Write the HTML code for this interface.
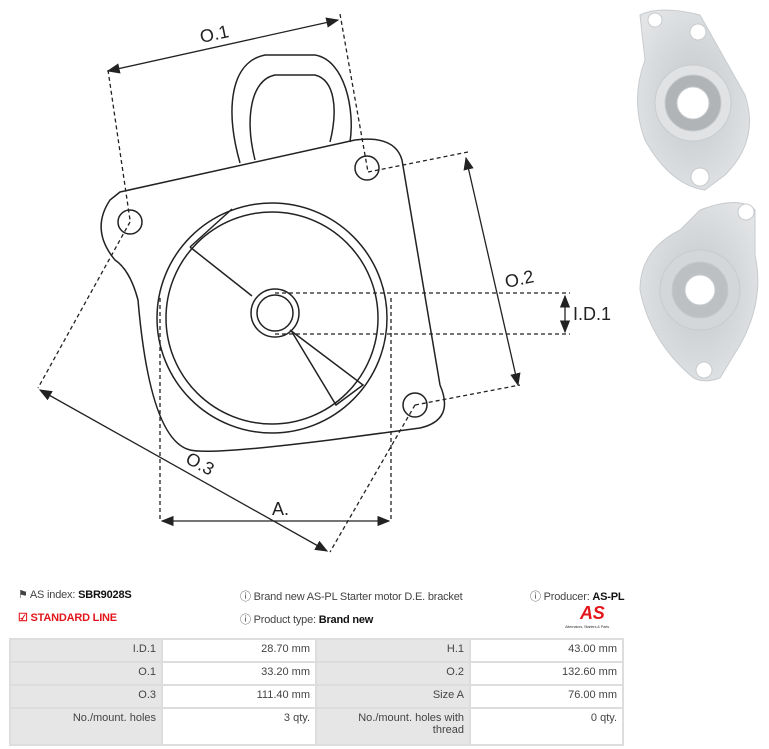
<!DOCTYPE html>
<html><head><meta charset="utf-8"><style>
body{margin:0;width:769px;height:749px;background:#fff;font-family:"Liberation Sans",sans-serif;position:relative;overflow:hidden}
.t{position:absolute;font-size:11px;color:#444;white-space:nowrap;letter-spacing:-0.2px}
.t b{color:#111}
table{position:absolute;left:9px;top:638px;border-collapse:collapse;font-size:11px;color:#444}
td{border:2px solid #ddd;text-align:right;padding:3px 5px;vertical-align:top;height:15px}
td.g{background:#e6e6e6}
</style></head><body>
<svg width="769" height="560" style="position:absolute;left:0;top:0" fill="none" stroke="#222" stroke-width="1.5">
<defs><marker id="a" markerWidth="10" markerHeight="8" refX="9" refY="4" orient="auto-start-reverse"><path d="M0,0 L10,4 L0,8 z" fill="#222" stroke="none"/></marker>
<radialGradient id="m" cx="50%" cy="50%" r="60%"><stop offset="0" stop-color="#c4c8cb"/><stop offset="1" stop-color="#e2e4e6"/></radialGradient></defs>
<path d="M240,163 C225,110 230,62 265,55 L315,55 C345,60 355,110 350,142" />
<path d="M255,160 C245,120 250,80 275,75 L315,75 C335,80 338,110 330,142" />
<path d="M120,192 L355,140 Q395,135 402,160 L440,385 Q455,420 420,428 L330,440 Q210,455 190,450 Q150,440 138,300 Q130,270 115,260 Q90,230 110,200 Z"/>
<circle cx="130" cy="222" r="12"/><circle cx="367" cy="168" r="12"/><circle cx="415" cy="405" r="12"/>
<circle cx="272" cy="318" r="115"/><circle cx="272" cy="318" r="106"/>
<circle cx="275" cy="313" r="24"/><circle cx="275" cy="313" r="18"/>
<path d="M190,247 L252,296 M232,209 L190,247 M292,332 L336,405 L363,385 L290,330"/>
<g stroke-dasharray="4,3" stroke-width="1.3">
<path d="M108,70 L130,220 M340,14 L368,172 M368,172 L468,152 M415,405 L520,385 M130,222 L38,388 M415,405 L330,552 M160,298 L160,522 M391,298 L391,522 M275,293 L570,293 M275,334 L570,334"/>
</g>
<g stroke-width="1.3">
<line x1="108" y1="71" x2="338" y2="20" marker-start="url(#a)" marker-end="url(#a)"/>
<line x1="466" y1="158" x2="518" y2="385" marker-start="url(#a)" marker-end="url(#a)"/>
<line x1="40" y1="390" x2="327" y2="551" marker-start="url(#a)" marker-end="url(#a)"/>
<line x1="162" y1="521" x2="389" y2="521" marker-start="url(#a)" marker-end="url(#a)"/>
<line x1="565" y1="296" x2="565" y2="332" marker-start="url(#a)" marker-end="url(#a)"/>
</g>
<g fill="#222" stroke="none" font-family="Liberation Sans" font-size="18">
<text x="200" y="40" transform="rotate(-12 215 35)">O.1</text>
<text x="505" y="285" transform="rotate(-12 520 280)">O.2</text>
<text x="185" y="470" transform="rotate(28 200 465)">O.3</text>
<text x="272" y="515">A.</text>
<text x="573" y="320">I.D.1</text>
</g>
<g stroke="#c8cbce" stroke-width="1">
<path d="M640,15 Q660,5 700,15 L745,95 Q760,140 725,175 L705,190 Q670,185 645,140 Q630,100 645,60 Z" fill="url(#m)"/>
<circle cx="693" cy="103" r="38" fill="#e0e2e4"/><circle cx="693" cy="103" r="28" fill="#b0b4b7"/><circle cx="693" cy="103" r="16" fill="#fff"/>
<circle cx="655" cy="20" r="7" fill="#fff"/><circle cx="698" cy="32" r="8" fill="#fff"/><circle cx="700" cy="177" r="9" fill="#fff"/>
<path d="M700,210 Q740,195 755,210 L755,255 Q765,300 740,345 L720,378 Q700,385 690,375 Q650,340 640,290 Q640,250 680,230 Z" fill="url(#m)"/>
<circle cx="700" cy="290" r="40" fill="#d4d7d9"/><circle cx="700" cy="290" r="28" fill="#bcc0c3"/><circle cx="700" cy="290" r="15" fill="#fff"/>
<circle cx="746" cy="212" r="8" fill="#fff"/><circle cx="704" cy="370" r="8" fill="#fff"/>
</g>
</svg>
<div class="t" style="left:18px;top:588px">&#9873; AS index: <b>SBR9028S</b></div>
<div class="t" style="left:18px;top:611px;color:#e3161b;font-weight:bold">&#9745; STANDARD LINE</div>
<div class="t" style="left:240px;top:588px">&#9432; Brand new AS-PL Starter motor D.E. bracket</div>
<div class="t" style="left:240px;top:611px">&#9432; Product type: <b>Brand new</b></div>
<div class="t" style="left:530px;top:588px">&#9432; Producer: <b>AS-PL</b></div>
<div class="t" style="left:580px;top:603px;color:#e3161b;font-weight:bold;font-style:italic;font-size:18px">AS</div>
<div class="t" style="left:565px;top:624px;font-size:4px">Alternators, Starters &amp; Parts</div>
<table>
<tr><td class="g" style="width:140px">I.D.1</td><td style="width:142px">28.70 mm</td><td class="g" style="width:142px">H.1</td><td style="width:141px">43.00 mm</td></tr>
<tr><td class="g">O.1</td><td>33.20 mm</td><td class="g">O.2</td><td>132.60 mm</td></tr>
<tr><td class="g">O.3</td><td>111.40 mm</td><td class="g">Size A</td><td>76.00 mm</td></tr>
<tr><td class="g" style="height:29px">No./mount. holes</td><td>3 qty.</td><td class="g">No./mount. holes with<br>thread</td><td>0 qty.</td></tr>
</table>
</body></html>
